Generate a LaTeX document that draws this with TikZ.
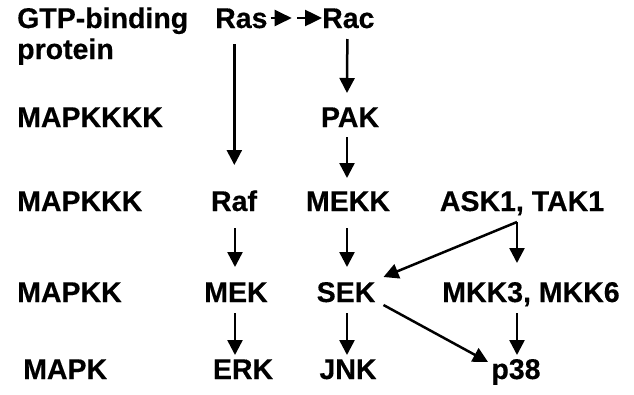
\documentclass[tikz,border=0pt]{standalone}
\usepackage{fontspec}
\setmainfont{Liberation Sans}
\newfontfamily\heavy[FakeBold=0.4]{Liberation Sans Bold}
\usetikzlibrary{arrows.meta,calc}
\begin{document}
\begin{tikzpicture}[x=1pt,y=-1pt,
  lab/.style={inner sep=0pt,font=\fontsize{28.5}{31}\heavy},
  arr/.style={line width=2.5pt,-{Triangle[length=15pt,width=15pt]}},
  small/.style={line width=2.5pt,-{Triangle[length=17pt,width=16pt]}}]
\useasboundingbox (0,0) rectangle (634,394);
% row labels
\node[lab,anchor=base west] (gtp) at (17,28) {GTP-binding};
\node[lab,anchor=base west] (prot) at (17,59) {protein};
\node[lab,anchor=base west] (l1) at (17,127) {MAPKKKK};
\node[lab,anchor=base west] (l2) at (17,211) {MAPKKK};
\node[lab,anchor=base west] (l3) at (17,302) {MAPKK};
\node[lab,anchor=base west] (l4) at (23,379) {MAPK};
% molecules
\node[lab,anchor=base west] (ras) at (215,28) {Ras};
\node[lab,anchor=base west] (rac) at (322,28) {Rac};
\node[lab,anchor=base] (pak) at (350,127) {PAK};
\node[lab,anchor=base] (raf) at (234,211) {Raf};
\node[lab,anchor=base] (mekk) at (348,211) {MEKK};
\node[lab,anchor=base] (ask) at (522,211) {ASK1, TAK1};
\node[lab,anchor=base] (mek) at (236,302) {MEK};
\node[lab,anchor=base] (sek) at (346,302) {SEK};
\node[lab,anchor=base] (mkk) at (531,302) {MKK3, MKK6};
\node[lab,anchor=base] (erk) at (243,379) {ERK};
\node[lab,anchor=base] (jnk) at (348,379) {JNK};
\node[lab,anchor=base] (p38) at (516,379) {p38};
% Ras -> -> Rac
\coordinate (m1) at ($(ras.base east)+(3,-10)$);
\coordinate (m2) at ($(rac.base west)+(-25,-10)$);
\draw[small] (m1) -- ++(21,0);
\draw[small] (m2) -- (rac.base west |- m2);
% verticals
\draw[arr] ($(ras.base)+(-7,16)$) -- ($(ras.base)+(-7,137)$);
\draw[arr] ($(rac.base)+(-1,11)$) -- ($(pak.base)+(-3,-34)$);
\draw[arr] ($(pak.base)+(-3,10)$) -- ($(mekk.base)+(-1,-33)$);
\draw[arr] ($(raf.base)+(1,17)$) -- ($(mek.base)+(-1,-35)$);
\draw[arr] ($(mekk.base)+(-1,17)$) -- ($(sek.base)+(1,-35)$);
\draw[arr] ($(mek.base)+(-1,11)$) -- ($(erk.base)+(-8,-24)$);
\draw[arr] ($(sek.base)+(1,11)$) -- ($(jnk.base)+(-1,-24)$);
\coordinate (askb) at ($(ask.base)+(-5,11)$);
\draw[arr] (askb) -- ($(mkk.base)+(-14,-39)$);
\draw[arr] ($(mkk.base)+(-14,11)$) -- ($(p38.base)+(1,-24)$);
\draw[arr] (askb) -- ($(sek.base east)+(8,-25)$);
\draw[arr] ($(sek.base east)+(8,3)$) -- ($(p38.base)+(-28,-17)$);
\end{tikzpicture}
\end{document}
